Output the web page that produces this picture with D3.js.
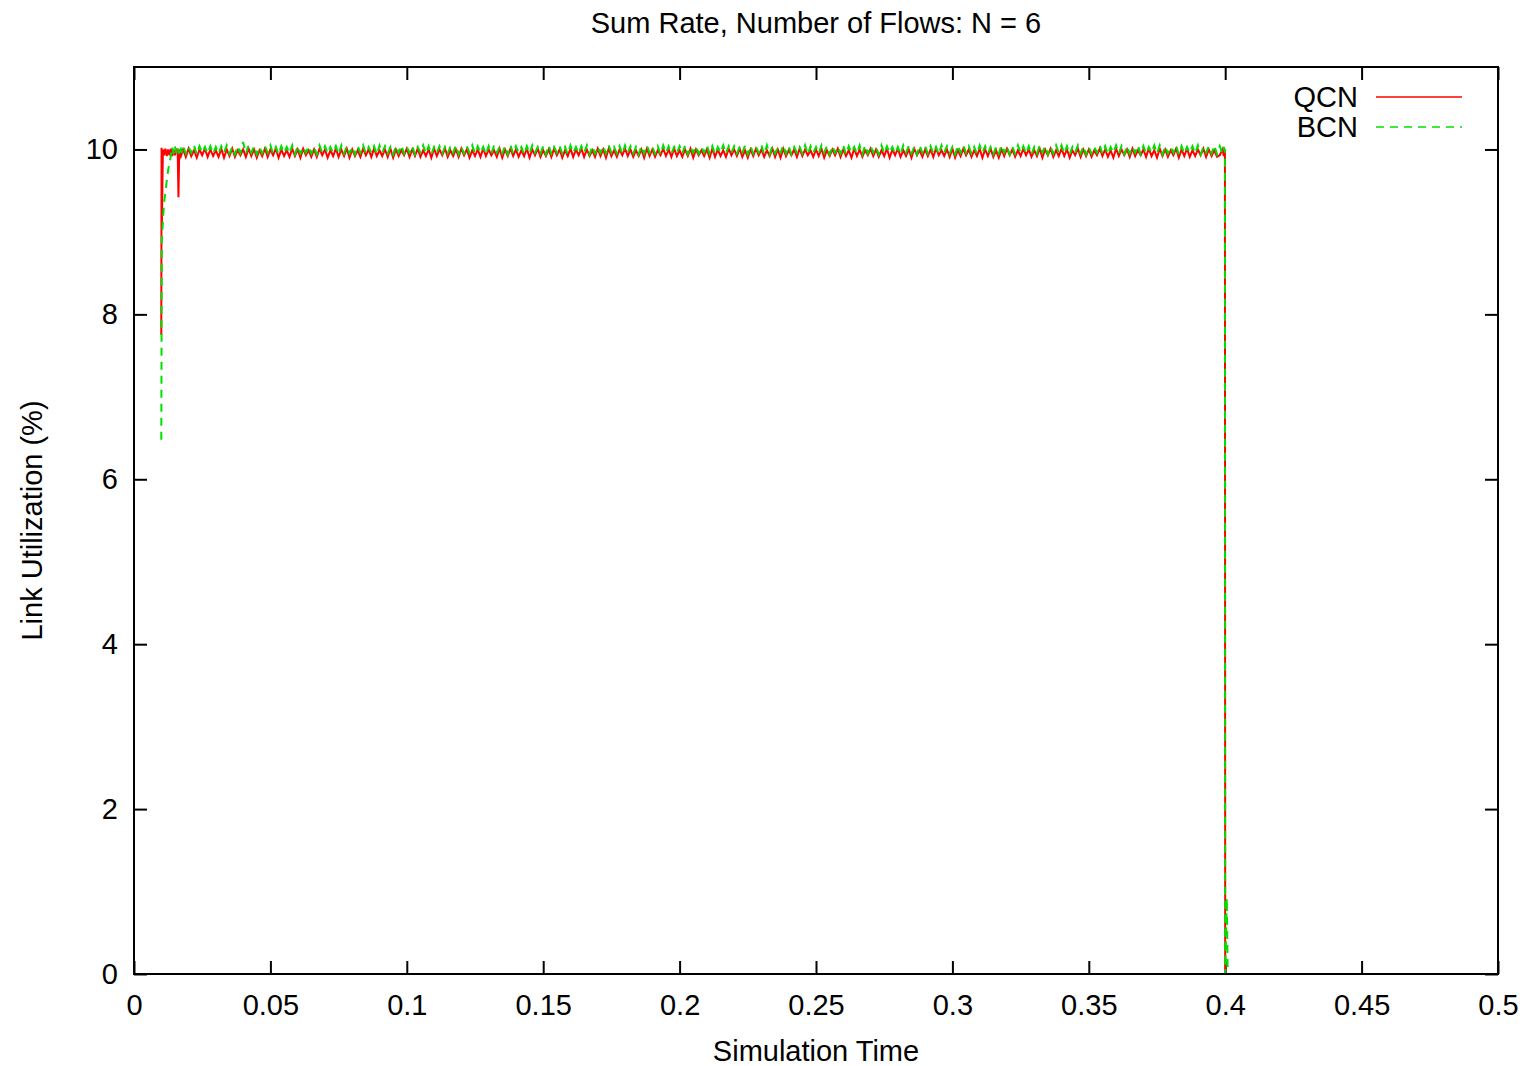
<!DOCTYPE html>
<html>
<head>
<meta charset="utf-8">
<script src="https://cdn.jsdelivr.net/npm/d3@7"></script>
<style>
  html, body { margin: 0; padding: 0; background: #fff; }
  svg text { font-family: "Liberation Sans", Arial, sans-serif; fill: #000; }
</style>
</head>
<body>
<div id="chart"></div>
<script>
// ---- data ----
const xTicks = [0, 0.05, 0.1, 0.15, 0.2, 0.25, 0.3, 0.35, 0.4, 0.45, 0.5];
const yTicks = [0, 2, 4, 6, 8, 10];
const seriesNames = ['QCN', 'BCN'];

// start-up transient, [time, value]
const qcnHead = [[0.0100, 7.75], [0.0101, 10.02], [0.0102, 9.05], [0.0106, 10.0], [0.0110, 9.93],
  [0.0115, 10.01], [0.0120, 9.92], [0.0125, 10.0], [0.0130, 9.93], [0.0135, 10.01], [0.0140, 9.92],
  [0.0145, 10.0], [0.0150, 9.93], [0.0155, 10.0], [0.0160, 10.0], [0.0163, 9.42], [0.0166, 10.0],
  [0.0172, 9.92]];
const bcnHead = [[0.0100, 6.48], [0.0102, 8.9], [0.0110, 9.35], [0.0125, 9.75], [0.0134, 9.9],
  [0.0140, 10.03], [0.0145, 9.95], [0.0150, 10.04], [0.0155, 9.96], [0.0160, 10.03], [0.0165, 9.95],
  [0.0170, 10.04], [0.0175, 9.96]];

// steady state samples, every 0.001 s from t = 0.018
const oscStart = 0.018, oscStep = 0.001;
const qcnOsc = [
  10.00,9.91,10.01,9.92,9.99,9.90,10.00,9.93,10.01,9.91,10.00,9.92,
  9.99,9.91,10.01,9.90,10.00,9.92,10.01,9.91,9.99,9.93,10.00,9.91,
  10.01,9.92,10.00,9.90,9.99,9.92,10.01,9.91,10.00,9.93,10.01,9.90,
  10.00,9.92,9.99,9.91,10.01,9.92,10.00,9.90,10.01,9.93,9.99,9.91,
  10.00,9.91,10.01,9.93,10.00,9.90,9.99,9.92,10.01,9.91,10.00,9.92,
  10.01,9.90,10.00,9.92,9.99,9.91,10.01,9.93,10.00,9.91,10.01,9.92,
  9.99,9.92,10.00,9.91,10.01,9.90,10.00,9.92,9.99,9.93,10.01,9.91,
  10.00,9.92,10.01,9.91,9.99,9.92,10.00,9.90,10.01,9.92,10.00,9.93,
  10.01,9.91,9.99,9.92,10.00,9.91,10.01,9.93,10.00,9.90,9.99,9.92,
  10.00,9.91,10.01,9.92,10.00,9.93,9.99,9.91,10.01,9.90,10.00,9.92,
  10.01,9.92,10.00,9.91,9.99,9.92,10.01,9.90,10.00,9.93,10.01,9.91,
  9.99,9.92,10.00,9.91,10.01,9.93,10.00,9.90,9.99,9.92,10.01,9.91,
  10.00,9.93,10.01,9.91,10.00,9.92,9.99,9.91,10.01,9.92,10.00,9.90,
  10.01,9.92,9.99,9.91,10.00,9.93,10.01,9.92,10.00,9.91,9.99,9.92,
  10.00,9.90,10.01,9.92,10.00,9.91,9.99,9.93,10.01,9.92,10.00,9.91,
  10.01,9.92,9.99,9.91,10.00,9.92,10.01,9.90,10.00,9.93,
  9.99,9.92,10.00,9.90,10.01,9.91,10.00,9.92,9.99,9.91,10.01,9.93,
  10.00,9.92,10.01,9.91,9.99,9.90,10.00,9.92,10.01,9.93,10.00,9.91,
  9.99,9.92,10.01,9.91,10.00,9.90,10.01,9.92,9.99,9.93,10.00,9.91,
  10.01,9.92,10.00,9.93,9.99,9.91,10.00,9.92,10.01,9.90,9.99,9.92,
  10.00,9.93,10.01,9.91,10.00,9.92,9.99,9.90,10.01,9.92,10.00,9.91,
  9.99,9.93,10.01,9.92,10.00,9.91,9.99,9.92,10.01,9.90,10.00,9.93,
  10.01,9.91,9.99,9.92,10.00,9.90,10.01,9.93,9.99,9.91,10.00,9.92,
  10.00,9.91,10.01,9.93,9.99,9.92,10.00,9.91,10.01,9.90,9.99,9.92,
  10.01,9.93,10.00,9.91,9.99,9.92,10.01,9.90,10.00,9.92,10.01,9.91,
  9.99,9.90,10.00,9.92,10.01,9.93,10.00,9.91,9.99,9.92,10.01,9.93,
  10.00,9.91,9.99,9.92,10.01,9.90,10.00,9.93,10.01,9.91,9.99,9.92,
  10.01,9.92,10.00,9.90,9.99,9.93,10.01,9.91,10.00,9.92,10.00,9.91,
  9.99,9.93,10.01,9.92,10.00,9.91,9.99,9.90,10.01,9.92,10.00,9.93,
  10.00,9.91,10.01,9.92,9.99,9.93,10.00,9.91,10.01,9.92,9.99,9.90,
  10.01,9.92,10.00,9.91,9.99,9.93,10.01,9.90,10.00,9.92,10.01,9.91,
  9.99,9.92,10.00,9.93,10.01,9.91,10.00,9.92,9.99,9.91
];
const bcnOsc = [
  10.04,9.95,10.03,9.96,10.05,9.94,10.04,9.96,10.03,9.95,10.04,9.95,
  10.03,9.95,10.04,9.96,10.05,9.95,10.03,9.94,10.04,9.96,10.09,9.95,
  10.05,9.96,10.04,9.94,10.03,9.95,10.04,9.96,10.05,9.95,10.03,9.94,
  10.04,9.96,10.03,9.95,10.05,9.94,10.04,9.95,10.03,9.96,10.04,9.95,
  10.03,9.94,10.05,9.96,10.04,9.95,10.03,9.96,10.04,9.94,10.05,9.95,
  10.04,9.95,10.03,9.94,10.04,9.96,10.05,9.95,10.03,9.96,10.04,9.94,
  10.05,9.96,10.04,9.95,10.03,9.94,10.04,9.96,10.05,9.95,10.03,9.96,
  10.04,9.94,10.03,9.96,10.05,9.95,10.04,9.94,10.03,9.96,10.04,9.95,
  10.03,9.95,10.04,9.96,10.05,9.94,10.03,9.95,10.04,9.96,10.05,9.95,
  10.04,9.96,10.03,9.94,10.04,9.95,10.05,9.96,10.03,9.95,10.04,9.94,
  10.05,9.95,10.04,9.96,10.03,9.94,10.04,9.95,10.05,9.96,10.03,9.95,
  10.04,9.94,10.05,9.95,10.03,9.96,10.04,9.95,10.03,9.94,10.05,9.96,
  10.03,9.95,10.04,9.96,10.05,9.94,10.04,9.95,10.03,9.96,10.04,9.95,
  10.05,9.96,10.03,9.95,10.04,9.94,10.05,9.96,10.04,9.95,10.03,9.94,
  10.04,9.95,10.05,9.96,10.03,9.95,10.04,9.94,10.05,9.96,10.04,9.95,
  10.03,9.96,10.04,9.95,10.05,9.94,10.03,9.96,10.04,9.95,
  10.03,9.96,10.05,9.95,10.04,9.94,10.03,9.96,10.05,9.95,10.04,9.96,
  10.04,9.95,10.03,9.96,10.05,9.94,10.04,9.95,10.03,9.96,10.05,9.94,
  10.05,9.94,10.04,9.95,10.03,9.96,10.05,9.95,10.04,9.94,10.03,9.96,
  10.03,9.95,10.05,9.94,10.04,9.96,10.03,9.95,10.05,9.96,10.04,9.94,
  10.04,9.96,10.03,9.95,10.05,9.94,10.04,9.96,10.03,9.95,10.05,9.94,
  10.05,9.95,10.04,9.96,10.03,9.94,10.05,9.95,10.04,9.96,10.03,9.95,
  10.03,9.94,10.05,9.96,10.04,9.95,10.03,9.94,10.05,9.96,10.04,9.95,
  10.04,9.95,10.03,9.94,10.05,9.96,10.04,9.95,10.03,9.94,10.05,9.96,
  10.05,9.96,10.04,9.95,10.03,9.94,10.05,9.96,10.04,9.95,10.03,9.94,
  10.03,9.95,10.05,9.96,10.04,9.94,10.03,9.95,10.05,9.96,10.04,9.95,
  10.04,9.94,10.03,9.95,10.05,9.96,10.04,9.94,10.03,9.95,10.05,9.96,
  10.05,9.95,10.04,9.94,10.03,9.96,10.05,9.95,10.04,9.94,10.03,9.95,
  10.03,9.96,10.05,9.95,10.04,9.94,10.03,9.96,10.05,9.95,10.04,9.94,
  10.04,9.95,10.03,9.96,10.05,9.94,10.04,9.95,10.03,9.96,10.05,9.95,
  10.05,9.94,10.04,9.95,10.03,9.96,10.05,9.94,10.04,9.95,10.03,9.96,
  10.04,9.95,10.05,9.94,10.03,9.96,10.04,9.95,10.05,9.94
];

// shut-down at t = 0.4, then idle to the end
const qcnTail = [[0.3980, 9.93], [0.3990, 10.0], [0.3995, 9.92], [0.3999, 10.0], [0.4000, 0.02], [0.4004, 0.0], [0.5, 0.0]];
const bcnTail = [[0.3980, 10.04], [0.3990, 9.95], [0.3995, 10.03], [0.3999, 9.98], [0.4000, 0.0], [0.4006, 0.92], [0.4009, 0.0], [0.5, 0.0]];

// ---- layout ----
const W = 1532, H = 1066;
const M = { left: 134, right: 1498, top: 67, bottom: 974 };
const FONT = 29;
const colors = { QCN: '#ff0000', BCN: '#00e000' };

const x = d3.scaleLinear().domain([0, 0.5]).range([M.left, M.right]);
const y = d3.scaleLinear().domain([0, 11]).range([M.bottom, M.top]);

const svg = d3.select('#chart').append('svg')
  .attr('width', W).attr('height', H);

function build(head, osc, tail) {
  const pts = head.slice();
  osc.forEach((v, i) => pts.push([oscStart + i * oscStep, v]));
  return pts.concat(tail);
}
const series = {
  QCN: build(qcnHead, qcnOsc, qcnTail),
  BCN: build(bcnHead, bcnOsc, bcnTail),
};

// axes with inward ticks on all four sides
const TICK = 13;
const xAxis = svg.append('g')
  .attr('transform', `translate(0,${M.bottom})`)
  .call(d3.axisBottom(x).tickValues(xTicks).tickFormat(d => String(d))
    .tickSizeInner(-TICK).tickSizeOuter(0).tickPadding(20));
const yAxis = svg.append('g')
  .attr('transform', `translate(${M.left},0)`)
  .call(d3.axisLeft(y).tickValues(yTicks).tickFormat(d => String(d))
    .tickSizeInner(-TICK).tickSizeOuter(0).tickPadding(16));
const xTop = svg.append('g')
  .attr('transform', `translate(0,${M.top})`)
  .call(d3.axisTop(x).tickValues(xTicks).tickFormat('')
    .tickSizeInner(-TICK).tickSizeOuter(0));
const yRight = svg.append('g')
  .attr('transform', `translate(${M.right},0)`)
  .call(d3.axisRight(y).tickValues(yTicks).tickFormat('')
    .tickSizeInner(-TICK).tickSizeOuter(0));

[xAxis, yAxis, xTop, yRight].forEach(g => {
  g.select('.domain').remove();
  g.selectAll('line').attr('stroke', '#000').attr('stroke-width', 2);
  g.selectAll('text').attr('font-size', FONT).attr('fill', '#000')
    .style('font-family', '"Liberation Sans", Arial, sans-serif');
});

// data lines
const line = d3.line().x(d => x(d[0])).y(d => y(d[1]));
svg.append('path')
  .datum(series.QCN)
  .attr('d', line)
  .attr('fill', 'none')
  .attr('stroke', colors.QCN)
  .attr('stroke-width', 2);
svg.append('path')
  .datum(series.BCN)
  .attr('d', line)
  .attr('fill', 'none')
  .attr('stroke', colors.BCN)
  .attr('stroke-width', 2)
  .attr('stroke-dasharray', '8,6');

// frame
svg.append('rect')
  .attr('x', M.left).attr('y', M.top)
  .attr('width', M.right - M.left).attr('height', M.bottom - M.top)
  .attr('fill', 'none').attr('stroke', '#000').attr('stroke-width', 2);

// legend
seriesNames.forEach((name, i) => {
  const ly = 97 + i * 30;
  svg.append('text')
    .attr('x', 1358).attr('y', ly + 10)
    .attr('text-anchor', 'end')
    .attr('font-size', FONT)
    .text(name);
  svg.append('line')
    .attr('x1', 1376).attr('x2', 1462)
    .attr('y1', ly).attr('y2', ly)
    .attr('stroke', colors[name])
    .attr('stroke-width', 1.6)
    .attr('stroke-dasharray', name === 'BCN' ? '8,6' : null);
});

// titles
svg.append('text')
  .attr('x', 816).attr('y', 33)
  .attr('text-anchor', 'middle')
  .attr('font-size', FONT)
  .text('Sum Rate, Number of Flows: N = 6');
svg.append('text')
  .attr('x', 816).attr('y', 1061)
  .attr('text-anchor', 'middle')
  .attr('font-size', FONT)
  .text('Simulation Time');
svg.append('text')
  .attr('transform', `translate(42,${(M.top + M.bottom) / 2}) rotate(-90)`)
  .attr('text-anchor', 'middle')
  .attr('font-size', FONT)
  .text('Link Utilization (%)');
</script>
</body>
</html>
